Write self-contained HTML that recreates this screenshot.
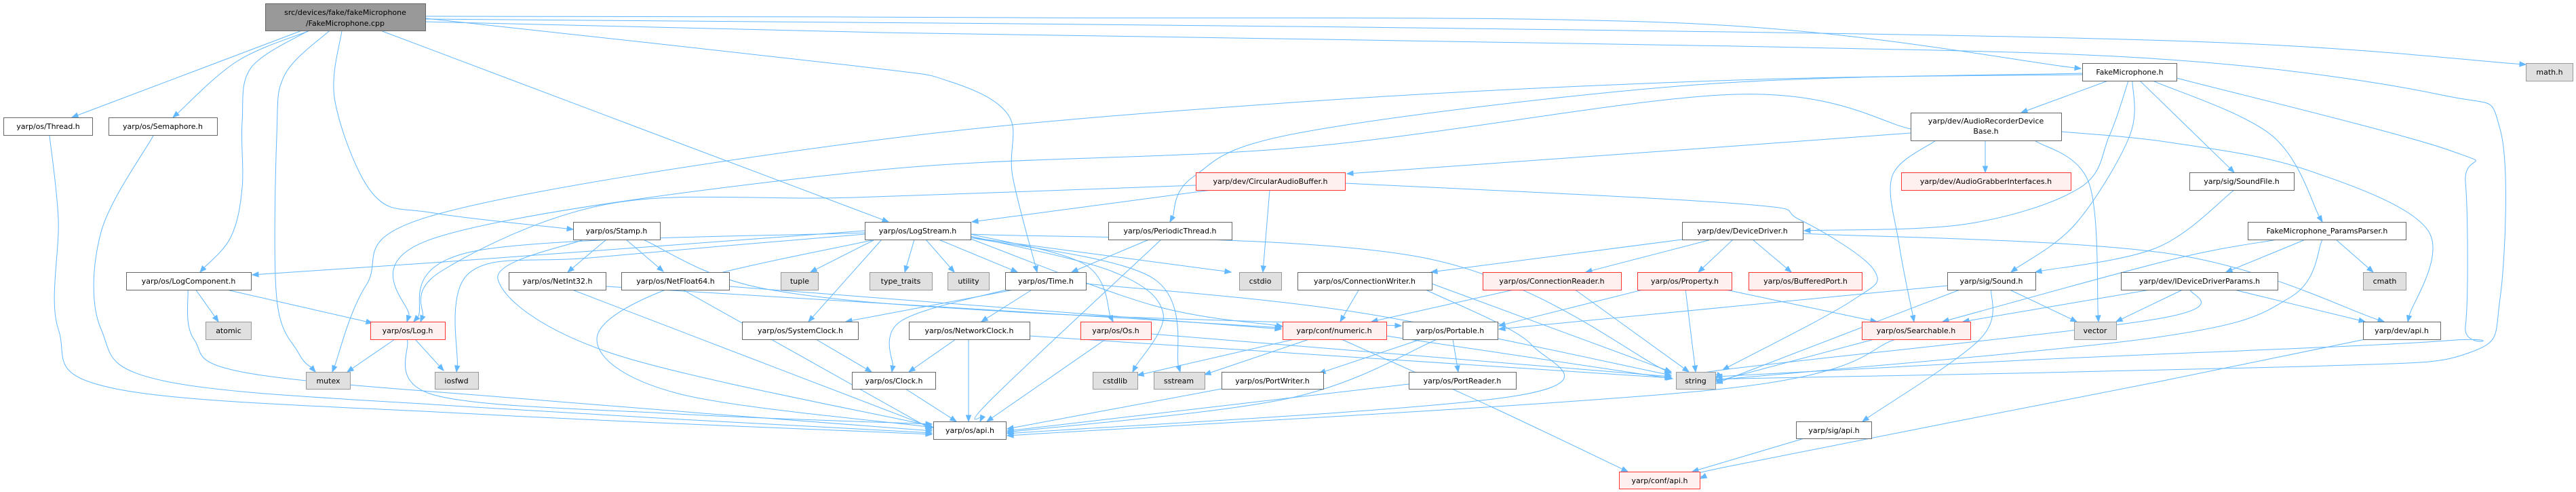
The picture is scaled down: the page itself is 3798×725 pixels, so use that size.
<!DOCTYPE html>
<html><head><meta charset="utf-8">
<style>
html,body{margin:0;padding:0;background:#fff;}
svg{display:block;}
text{font-family:"DejaVu Sans","Liberation Sans",sans-serif;font-size:11px;fill:#000;}
.n rect{fill:#fff;stroke:#666;stroke-width:1;}
.g rect{fill:#e0e0e0;stroke:#999;stroke-width:1;}
.r rect{fill:#fff0f0;stroke:#ff3333;stroke-width:1;}
.root rect{fill:#999;stroke:#666;stroke-width:1;}
</style></head><body>
<svg id="s" width="3798" height="725" viewBox="0 0 3798 725" xmlns="http://www.w3.org/2000/svg">
<g id="edges" fill="none" stroke="#63b8ff" stroke-width="1"></g>
<g id="arrows" fill="#63b8ff" stroke="#63b8ff"></g>
<g text-anchor="middle">
<g class="root"><rect x="391.5" y="5.5" width="236" height="40"/><text x="509" y="22">src/devices/fake/fakeMicrophone</text><text x="509" y="38">/FakeMicrophone.cpp</text></g>
<g class="n"><rect x="5.5" y="173.5" width="131" height="26"/><text x="71" y="190">yarp/os/Thread.h</text></g>
<g class="n"><rect x="160.5" y="173.5" width="160" height="26"/><text x="240" y="190">yarp/os/Semaphore.h</text></g>
<g class="n"><rect x="3070.5" y="93.5" width="139" height="26"/><text x="3140" y="110">FakeMicrophone.h</text></g>
<g class="g"><rect x="3724.5" y="93.5" width="69" height="26"/><text x="3759" y="110">math.h</text></g>
<g class="n"><rect x="2817.5" y="166.5" width="222" height="41"/><text x="2928" y="182">yarp/dev/AudioRecorderDevice</text><text x="2928" y="197">Base.h</text></g>
<g class="r"><rect x="1763.5" y="254.5" width="220" height="26"/><text x="1873" y="271">yarp/dev/CircularAudioBuffer.h</text></g>
<g class="r"><rect x="2803.5" y="254.5" width="250" height="26"/><text x="2928" y="271">yarp/dev/AudioGrabberInterfaces.h</text></g>
<g class="n"><rect x="3228.5" y="254.5" width="154" height="26"/><text x="3305" y="271">yarp/sig/SoundFile.h</text></g>
<g class="n"><rect x="845.5" y="327.5" width="128" height="26"/><text x="909" y="344">yarp/os/Stamp.h</text></g>
<g class="n"><rect x="1275.5" y="327.5" width="156" height="26"/><text x="1353" y="344">yarp/os/LogStream.h</text></g>
<g class="n"><rect x="1634.5" y="327.5" width="182" height="26"/><text x="1725" y="344">yarp/os/PeriodicThread.h</text></g>
<g class="n"><rect x="2480.5" y="327.5" width="178" height="26"/><text x="2569" y="344">yarp/dev/DeviceDriver.h</text></g>
<g class="n"><rect x="3314.5" y="327.5" width="233" height="26"/><text x="3431" y="344">FakeMicrophone_ParamsParser.h</text></g>
<g class="n"><rect x="186.5" y="401.5" width="184" height="26"/><text x="278" y="418">yarp/os/LogComponent.h</text></g>
<g class="n"><rect x="750.5" y="401.5" width="143" height="26"/><text x="822" y="418">yarp/os/NetInt32.h</text></g>
<g class="n"><rect x="916.5" y="401.5" width="159" height="26"/><text x="996" y="418">yarp/os/NetFloat64.h</text></g>
<g class="g"><rect x="1151.5" y="401.5" width="55" height="26"/><text x="1179" y="418">tuple</text></g>
<g class="g"><rect x="1282.5" y="401.5" width="92" height="26"/><text x="1328" y="418">type_traits</text></g>
<g class="g"><rect x="1397.5" y="401.5" width="61" height="26"/><text x="1428" y="418">utility</text></g>
<g class="n"><rect x="1482.5" y="401.5" width="119" height="26"/><text x="1542" y="418">yarp/os/Time.h</text></g>
<g class="g"><rect x="1827.5" y="401.5" width="62" height="26"/><text x="1858" y="418">cstdio</text></g>
<g class="n"><rect x="1913.5" y="401.5" width="198" height="26"/><text x="2012" y="418">yarp/os/ConnectionWriter.h</text></g>
<g class="r"><rect x="2186.5" y="401.5" width="204" height="26"/><text x="2288" y="418">yarp/os/ConnectionReader.h</text></g>
<g class="r"><rect x="2414.5" y="401.5" width="139" height="26"/><text x="2484" y="418">yarp/os/Property.h</text></g>
<g class="r"><rect x="2578.5" y="401.5" width="167" height="26"/><text x="2662" y="418">yarp/os/BufferedPort.h</text></g>
<g class="n"><rect x="2871.5" y="401.5" width="130" height="26"/><text x="2936" y="418">yarp/sig/Sound.h</text></g>
<g class="n"><rect x="3127.5" y="401.5" width="231" height="26"/><text x="3243" y="418">yarp/dev/IDeviceDriverParams.h</text></g>
<g class="g"><rect x="3484.5" y="401.5" width="63" height="26"/><text x="3516" y="418">cmath</text></g>
<g class="g"><rect x="303.5" y="474.5" width="67" height="26"/><text x="337" y="491">atomic</text></g>
<g class="r"><rect x="546.5" y="474.5" width="110" height="26"/><text x="601" y="491">yarp/os/Log.h</text></g>
<g class="n"><rect x="1094.5" y="474.5" width="171" height="26"/><text x="1180" y="491">yarp/os/SystemClock.h</text></g>
<g class="n"><rect x="1340.5" y="474.5" width="178" height="26"/><text x="1429" y="491">yarp/os/NetworkClock.h</text></g>
<g class="r"><rect x="1593.5" y="474.5" width="104" height="26"/><text x="1645" y="491">yarp/os/Os.h</text></g>
<g class="r"><rect x="1891.5" y="474.5" width="153" height="26"/><text x="1967" y="491">yarp/conf/numeric.h</text></g>
<g class="n"><rect x="2068.5" y="474.5" width="140" height="26"/><text x="2138" y="491">yarp/os/Portable.h</text></g>
<g class="r"><rect x="2745.5" y="474.5" width="160" height="26"/><text x="2825" y="491">yarp/os/Searchable.h</text></g>
<g class="g"><rect x="3058.5" y="474.5" width="62" height="26"/><text x="3089" y="491">vector</text></g>
<g class="n"><rect x="3484.5" y="474.5" width="114" height="26"/><text x="3541" y="491">yarp/dev/api.h</text></g>
<g class="g"><rect x="451.5" y="548.5" width="65" height="25"/><text x="484" y="565">mutex</text></g>
<g class="g"><rect x="641.5" y="548.5" width="64" height="25"/><text x="673" y="565">iosfwd</text></g>
<g class="n"><rect x="1256.5" y="548.5" width="123" height="25"/><text x="1318" y="565">yarp/os/Clock.h</text></g>
<g class="g"><rect x="1611.5" y="548.5" width="66" height="25"/><text x="1644" y="565">cstdlib</text></g>
<g class="g"><rect x="1701.5" y="548.5" width="75" height="25"/><text x="1738" y="565">sstream</text></g>
<g class="n"><rect x="1801.5" y="548.5" width="150" height="25"/><text x="1876" y="565">yarp/os/PortWriter.h</text></g>
<g class="n"><rect x="2077.5" y="548.5" width="158" height="25"/><text x="2156" y="565">yarp/os/PortReader.h</text></g>
<g class="g"><rect x="2471.5" y="548.5" width="58" height="25"/><text x="2500" y="565">string</text></g>
<g class="n"><rect x="1376.5" y="621.5" width="107" height="26"/><text x="1430" y="638">yarp/os/api.h</text></g>
<g class="n"><rect x="2648.5" y="621.5" width="111" height="25"/><text x="2704" y="638">yarp/sig/api.h</text></g>
<g class="r"><rect x="2387.5" y="695.5" width="119" height="25"/><text x="2447" y="712">yarp/conf/api.h</text></g>
</g>
</svg>
<script>
var E=[
[[445,45],[106,173]],
[[457,45],[350,90],[255,173]],
[[455,45],[370,100],[357,180],[357,277],[340,350],[295,401]],
[[486,45],[420,110],[408,200],[408,440],[440,520],[465,548]],
[[504,45],[494,150],[551,287],[640,314],[845,338]],
[[561,45],[1310,327]],
[[627,27],[1260,97],[1400,120],[1487,170],[1493,260],[1529,401]],
[[627,24],[1500,26],[2500,35],[3068,101]],
[[627,28],[2000,40],[3200,60],[3724,95]],
[[627,32],[1300,48],[2560,68],[3200,88],[3600,140],[3686,190],[3686,440],[3640,520],[3400,540],[2560,558],[2530,560]],
[[3108,119],[2980,166]],
[[3138,119],[3110,200],[3066,277],[2900,330],[2660,340]],
[[3144,119],[3140,200],[3060,330],[2965,401]],
[[3155,119],[3294,254]],
[[3174,119],[3350,200],[3424,327]],
[[3209,115],[3613,222],[3635,268],[3635,481],[3607,502],[3000,530],[2530,555]],
[[3070,108],[2500,125],[1920,195],[1760,260],[1725,327]],
[[3070,110],[2560,118],[1920,150],[1280,208],[640,317],[540,420],[490,548]],
[[2927,207],[2927,254]],
[[2854,207],[2790,259],[2800,360],[2822,474]],
[[3000,207],[3080,270],[3094,474]],
[[2817,196],[2560,215],[1986,256]],
[[3039,194],[3200,210],[3400,250],[3580,340],[3550,474]],
[[2817,190],[2560,139],[1920,217],[1280,252],[640,351],[600,474]],
[[1786,280],[1433,327]],
[[1872,280],[1862,401]],
[[1983,270],[2560,300],[2654,324],[2763,398],[2729,444],[2540,545]],
[[1763,273],[1260,291],[900,300],[650,400],[620,474]],
[[1694,353],[1580,401]],
[[1712,353],[1460,590],[1445,621]],
[[1348,353],[1334,401]],
[[1365,353],[1407,401]],
[[1384,353],[1500,401]],
[[1290,353],[1195,401]],
[[1300,353],[1192,474]],
[[1431,345],[1600,390],[1641,474]],
[[1431,348],[1640,400],[1715,462],[1670,548]],
[[1431,350],[1700,410],[1740,548]],
[[1431,350],[1815,401]],
[[1431,345],[2100,380],[2464,550]],
[[1290,353],[1000,420],[880,500],[1000,580],[1376,630]],
[[1275,345],[881,379],[692,402],[673,548]],
[[1275,343],[700,370],[610,474]],
[[1275,340],[640,387],[372,405]],
[[1431,352],[1700,450],[1891,481]],
[[1487,426],[1327,474],[1315,548]],
[[1523,426],[1447,474]],
[[1500,426],[1247,474]],
[[1601,418],[2000,460],[2464,553]],
[[1409,500],[1340,548]],
[[1428,500],[1428,621]],
[[1518,495],[2464,557]],
[[1203,500],[1285,548]],
[[1335,573],[1410,621]],
[[1630,500],[1455,621]],
[[1697,492],[2464,555]],
[[1908,500],[1677,553]],
[[1930,500],[1776,552]],
[[1978,500],[2200,600],[2400,695]],
[[2044,495],[2466,558]],
[[2095,500],[1945,550]],
[[2142,500],[2150,548]],
[[2119,500],[1900,587],[1485,637]],
[[1801,573],[1485,632]],
[[2077,566],[1485,635]],
[[2004,426],[1976,474]],
[[2111,418],[2464,548]],
[[2100,426],[2258,508],[2237,583],[1485,639]],
[[2236,426],[2022,474]],
[[2321,426],[2490,548]],
[[2426,426],[2210,480]],
[[2485,426],[2500,548]],
[[2540,426],[2767,474]],
[[2480,353],[2110,401]],
[[2523,353],[2338,401]],
[[2555,353],[2504,401]],
[[2584,353],[2641,401]],
[[2658,344],[3200,374],[3515,474]],
[[2763,500],[2530,562]],
[[2795,500],[2540,573],[1485,642]],
[[2892,426],[2530,565]],
[[2871,421],[2210,485]],
[[2961,426],[3062,474]],
[[2936,426],[2919,500],[2746,621]],
[[2660,646],[2495,695]],
[[3487,500],[3180,563],[2540,689],[2507,705]],
[[3290,426],[3487,474]],
[[3176,426],[2894,474]],
[[3220,426],[3120,474]],
[[3230,426],[3180,470],[2540,545],[2530,558]],
[[3399,353],[3282,401]],
[[3444,353],[3499,401]],
[[3424,353],[3377,438],[3180,497],[2530,560]],
[[3357,353],[3200,383],[2864,474]],
[[3294,280],[3180,365],[3001,401]],
[[582,500],[512,548]],
[[612,500],[654,546]],
[[600,500],[640,582],[1000,610],[1374,625]],
[[894,353],[837,401]],
[[923,353],[978,400]],
[[860,353],[734,411],[900,520],[1374,628]],
[[948,353],[1125,425],[1500,460],[2066,480]],
[[841,426],[1374,630]],
[[893,422],[1889,483]],
[[1005,426],[1374,633]],
[[1075,422],[1889,485]],
[[288,426],[322,474]],
[[330,426],[549,476]],
[[277,426],[286,500],[367,550],[800,590],[1374,635]],
[[73,200],[86,323],[86,485],[171,573],[700,610],[1374,640]],
[[226,200],[149,342],[149,485],[245,562],[700,600],[1374,638]]
];
var eg=document.getElementById('edges'),ag=document.getElementById('arrows'),NS='http://www.w3.org/2000/svg';
E.forEach(function(P){
  var n=P.length,e=P[n-1],pc;
  var d='M'+P[0][0]+','+P[0][1];
  var segs=[];
  for(var i=0;i<n-1;i++){
    var p0=P[Math.max(i-1,0)],p1=P[i],p2=P[i+1],p3=P[Math.min(i+2,n-1)];
    var c1=[p1[0]+(p2[0]-p0[0])/6,p1[1]+(p2[1]-p0[1])/6];
    var c2=[p2[0]-(p3[0]-p1[0])/6,p2[1]-(p3[1]-p1[1])/6];
    segs.push([c1,c2,p2]);
  }
  var last=segs[segs.length-1];
  var dx=e[0]-last[1][0],dy=e[1]-last[1][1];
  if(Math.abs(dx)+Math.abs(dy)<0.5){dx=e[0]-P[n-2][0];dy=e[1]-P[n-2][1];}
  var L=Math.sqrt(dx*dx+dy*dy);dx/=L;dy/=L;
  var b=[e[0]-dx*9,e[1]-dy*9];
  last[2]=b;
  last[1]=[last[1][0]-dx*4,last[1][1]-dy*4];
  segs.forEach(function(s){d+=' C'+s[0][0].toFixed(1)+','+s[0][1].toFixed(1)+' '+s[1][0].toFixed(1)+','+s[1][1].toFixed(1)+' '+s[2][0].toFixed(1)+','+s[2][1].toFixed(1);});
  var p=document.createElementNS(NS,'path');p.setAttribute('d',d);eg.appendChild(p);
  var px=-dy,py=dx;
  var a=document.createElementNS(NS,'polygon');
  a.setAttribute('points',e[0]+','+e[1]+' '+(b[0]+px*3.5).toFixed(1)+','+(b[1]+py*3.5).toFixed(1)+' '+(b[0]-px*3.5).toFixed(1)+','+(b[1]-py*3.5).toFixed(1));
  ag.appendChild(a);
});
</script>
</body></html>
